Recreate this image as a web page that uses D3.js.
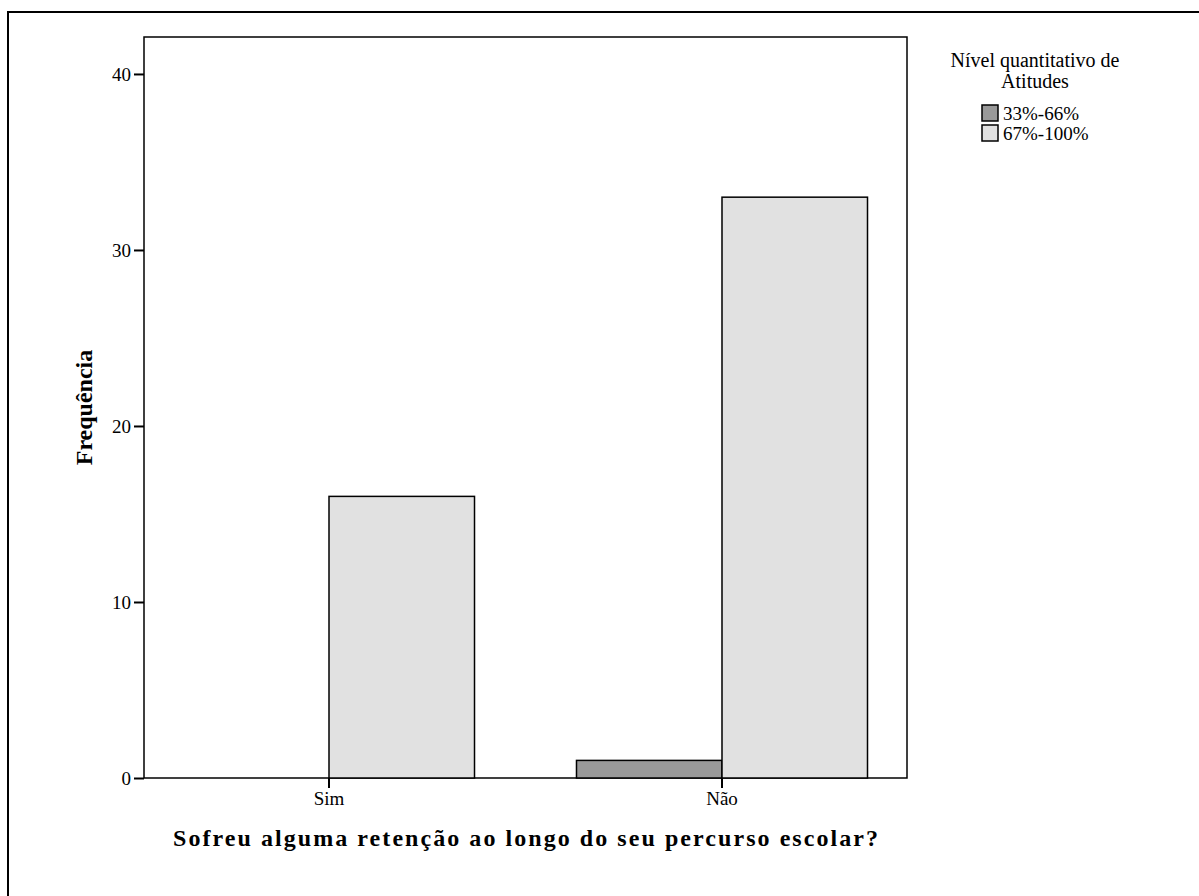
<!DOCTYPE html>
<html><head><meta charset="utf-8">
<script src="https://cdn.jsdelivr.net/npm/d3@7"></script>
<style>body{margin:0;background:#fff}svg{display:block}text{font-family:"Liberation Serif","Times New Roman",serif}</style>
</head><body>
<svg id="c" width="1199" height="896"></svg>
<script>
const categories = ["Sim", "Não"];
const seriesNames = ["33%-66%", "67%-100%"];
const values33_66 = [0, 1];
const values67_100 = [16, 33];
const yTicks = [0, 10, 20, 30, 40];
const colors = ["#999999", "#e1e1e1"];
const xTitle = "Sofreu alguma retenção ao longo do seu percurso escolar?";
const yTitle = "Frequência";
const legendTitle = ["Nível quantitativo de", "Atitudes"];

const svg = d3.select("#c");
svg.append("rect").attr("x", 8).attr("y", 12).attr("width", 1300).attr("height", 1000)
  .attr("fill", "none").attr("stroke", "#000").attr("stroke-width", 2);

const L = 144, R = 907, T = 37, B = 778;
const y = d3.scaleLinear().domain([0, 42.1]).range([B, T]);
const x0 = d3.scaleBand().domain(categories).range([L, R]).paddingInner(0.2595).paddingOuter(0.1005);
const x1 = d3.scaleBand().domain(seriesNames).range([0, x0.bandwidth()]);

const data = categories.map((c, i) => ({cat: c, vals: [values33_66[i], values67_100[i]]}));

// plot frame
svg.append("rect").attr("x", L).attr("y", T).attr("width", R - L).attr("height", B - T)
  .attr("fill", "none").attr("stroke", "#000").attr("stroke-width", 1.5);

const g = svg.append("g");
data.forEach(d => {
  d.vals.forEach((v, j) => {
    if (v <= 0) return;
    g.append("rect")
      .attr("x", x0(d.cat) + x1(seriesNames[j]))
      .attr("y", y(v))
      .attr("width", x1.bandwidth())
      .attr("height", y(0) - y(v))
      .attr("fill", colors[j]).attr("stroke", "#000").attr("stroke-width", 1.5);
  });
});

// y axis
const ya = svg.append("g").attr("transform", `translate(${L},0)`)
  .call(d3.axisLeft(y).tickValues(yTicks).tickSize(10).tickPadding(3));
ya.select(".domain").remove();
ya.selectAll("line").attr("stroke", "#000").attr("stroke-width", 2);
ya.selectAll("text").attr("font-size", 19).attr("fill", "#000").attr("font-family", "Liberation Serif");

// x axis
const xa = svg.append("g").attr("transform", `translate(0,${B})`)
  .call(d3.axisBottom(x0).tickSize(10).tickPadding(4));
xa.select(".domain").remove();
xa.selectAll("line").attr("stroke", "#000").attr("stroke-width", 2);
xa.selectAll("text").attr("font-size", 19).attr("fill", "#000").attr("font-family", "Liberation Serif");

// titles
svg.append("text").attr("x", 173).attr("y", 846)
  .attr("font-size", 24).attr("font-weight", "bold")
  .attr("textLength", 705).attr("lengthAdjust", "spacing").text(xTitle);
svg.append("text").attr("transform", `translate(92,${(T + B) / 2}) rotate(-90)`).attr("text-anchor", "middle")
  .attr("font-size", 24).attr("font-weight", "bold").text(yTitle);

// legend
const lg = svg.append("g");
legendTitle.forEach((t, i) => {
  lg.append("text").attr("x", 1035).attr("y", 67 + i * 21).attr("text-anchor", "middle")
    .attr("font-size", 20).text(t);
});
seriesNames.forEach((s, i) => {
  lg.append("rect").attr("x", 982).attr("y", 105 + i * 20).attr("width", 16).attr("height", 16)
    .attr("fill", colors[i]).attr("stroke", "#000").attr("stroke-width", 1.5);
  lg.append("text").attr("x", 1003).attr("y", 120 + i * 20).attr("font-size", 19).text(s);
});
</script>
</body></html>
